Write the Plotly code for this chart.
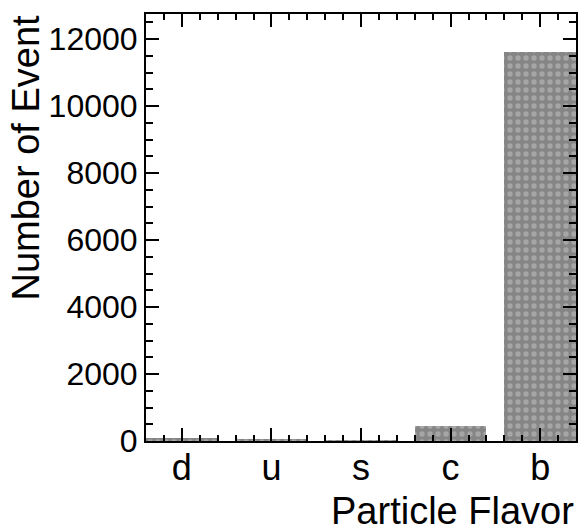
import plotly.graph_objects as go

flavors = ["d", "u", "s", "c", "b"]
positions = [1, 2, 3, 4, 5]
counts = [80, 60, 25, 460, 11630]
y_ticks = [0, 2000, 4000, 6000, 8000, 10000, 12000]
y_tick_text = ["0", "2000", "4000", "6000", "8000", "10000", "12000"]

W, H = 578, 525
L, R, T, B = 146, 0, 14, 84
FONT = "Liberation Sans, Arial, Helvetica, sans-serif"

fig = go.Figure()
fig.add_trace(go.Bar(
    x=positions, y=counts, width=0.8,
    marker=dict(color="#858585", line=dict(width=0),
                pattern=dict(shape=".", fgcolor="#c8c8c8", size=8, solidity=0.35)),
))

fig.update_layout(
    width=W, height=H,
    margin=dict(l=L, r=R, t=T, b=B, pad=0),
    paper_bgcolor="white", plot_bgcolor="white",
    showlegend=False, bargap=0,
    font=dict(family=FONT, color="black"),
    xaxis=dict(range=[0.6, 5.4], tickvals=positions, ticktext=flavors,
               showgrid=False, zeroline=False, showline=True, linewidth=2,
               linecolor="black", mirror="allticks", ticks="inside",
               ticklen=13, tickwidth=2, tickcolor="black",
               ticklabelstandoff=-6,
               tickfont=dict(size=36, family=FONT),
               minor=dict(dtick=0.2, tick0=0, ticks="inside", ticklen=6,
                          tickwidth=2, tickcolor="black", showgrid=False)),
    yaxis=dict(range=[0, 12750], tickvals=y_ticks, ticktext=y_tick_text,
               showgrid=False, zeroline=False, showline=True, linewidth=2,
               linecolor="black", mirror="allticks", ticks="inside",
               ticklen=13, tickwidth=2, tickcolor="black",
               tickfont=dict(size=32, family=FONT),
               minor=dict(dtick=500, tick0=0, ticks="inside", ticklen=7,
                          tickwidth=2, tickcolor="black", showgrid=False)),
)

fig.add_annotation(text="Particle Flavor", xref="paper", yref="paper",
                   x=1.0, y=(441 - 488) / 427, xanchor="right", yanchor="top",
                   showarrow=False, font=dict(size=38, family=FONT, color="black"))
fig.add_annotation(text="Number of Event", xref="paper", yref="paper",
                   x=(25 - 146) / 432, y=1.0 + 1 / 427, xanchor="center", yanchor="top",
                   textangle=-90, showarrow=False,
                   font=dict(size=38, family=FONT, color="black"))

fig.write_html("out.html")
